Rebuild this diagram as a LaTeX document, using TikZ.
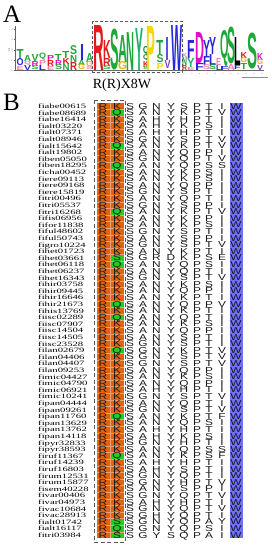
\documentclass[tikz,border=0pt]{standalone}
\usepackage{fontspec}
\setmainfont{Liberation Serif}
\newfontfamily\seqfont{Liberation Sans}
\newfontfamily\logofont{Liberation Sans}
\definecolor{orng}{HTML}{E0640E}
\definecolor{orngline}{HTML}{F0A070}
\definecolor{grn}{HTML}{22CC22}
\definecolor{wblue}{HTML}{7070FF}
\definecolor{lred}{HTML}{E41A1A}
\definecolor{lgreen}{HTML}{1FA83A}
\definecolor{ldgreen}{HTML}{0A7A3A}
\definecolor{lteal}{HTML}{20B070}
\definecolor{lyellow}{HTML}{F5D800}
\definecolor{lorange}{HTML}{F0B000}
\definecolor{lblue}{HTML}{2828D8}
\definecolor{lmag}{HTML}{E010C8}
\definecolor{lpurple}{HTML}{8A3AD0}
\definecolor{lpink}{HTML}{F080B0}
\newcount\colnum
\newcommand\lgl[6]{%
  \pgfmathsetmacro\lgw{#2-#1}\pgfmathsetmacro\lgh{#3-#4}%
  \node[anchor=south west,inner sep=0pt,outer sep=0pt,text=#5] at (#1,#3) {\resizebox*{\lgw pt}{\lgh pt}{\logofont\bfseries #6}};}
\newcommand\seqrow[3]{%
  \pgfmathsetmacro\ry{106+6.6*(#1-1)}%
  \node[namestyle] at (38,\ry+2.4) {\scalebox{1.62}[1]{#2}};%
  \global\colnum=0
  \seqloop#3\relax}
\def\seqloop#1{\ifx#1\relax\else
  \pgfmathsetmacro\cx{{103,117,130,143,156.5,171,184,197,209,222,236}[\the\colnum]}%
  \node[seqlet] at (\cx,\ry+3) {\scalebox{1.38}[1]{#1}};%
  \global\advance\colnum by 1
  \expandafter\seqloop\fi}
\begin{document}
\begin{tikzpicture}[x=1pt,y=-1pt,
  namestyle/.style={anchor=base west,inner sep=0pt,font=\fontsize{6.6}{6.6}\selectfont,text=black},
  seqlet/.style={anchor=base,inner sep=0pt,font=\seqfont\fontsize{8.6}{8.6}\selectfont,text=black!90},
  dashbox/.style={draw=black!65,line width=0.7pt,dash pattern=on 3pt off 2pt},
  panellabel/.style={anchor=base west,inner sep=0pt,font=\fontsize{25}{25}\selectfont}]
\useasboundingbox[fill=white] (0,0) rectangle (272,550);
% ---------- Panel A ----------
\node[panellabel] (labA) at (3,22) {A};
% axis
\draw[black!60,line width=0.3pt] (15,26) -- (15,70.5) -- (264,70.5);
\foreach \k in {0,1,2,3,4}{\draw[black!60,line width=0.3pt] (13.5,70.5-10.3*\k) -- (15,70.5-10.3*\k);
  \node[font=\fontsize{2.5}{2.5}\selectfont,text=black!60,inner sep=0pt] (yt\k) at (12,70.5-10.3*\k) {\k};}
\node[font=\fontsize{2.5}{2.5}\selectfont,text=black!60,inner sep=0pt,rotate=90] (bits) at (9,50) {bits};
\foreach \p in {1,...,32}{\node[font=\fontsize{1.8}{1.8}\selectfont,text=black!50,inner sep=0pt] (xt\p) at (20+7.8*\p-7.8,73.5) {\p};}
\draw[black!45,line width=0.4pt] (242,77.3) -- (268,77.3);
% left small stacks
\lgl{16.5}{23.5}{59}{49}{lgreen}{T}\lgl{16.5}{23.5}{66}{59}{lblue}{O}\lgl{16.5}{23.5}{70}{66}{lpink}{E}
\lgl{24}{31}{61}{55}{lgreen}{A}\lgl{24}{31}{65}{61}{lpink}{Q}\lgl{24}{31}{70}{65}{lblue}{V}
\lgl{31.5}{38.5}{61}{54}{lgreen}{V}\lgl{31.5}{38.5}{66}{61}{lmag}{R}\lgl{31.5}{38.5}{70}{66}{lgreen}{S}
\lgl{39}{46}{60}{53}{lgreen}{Q}\lgl{39}{46}{65}{60}{lpink}{P}\lgl{39}{46}{70}{65}{lblue}{L}
\lgl{47}{54}{60}{55}{lmag}{P}\lgl{47}{54}{66}{60}{lred}{R}\lgl{47}{54}{70}{66}{lpink}{E}
\lgl{55}{62}{60}{54}{lgreen}{T}\lgl{55}{62}{65}{60}{lmag}{R}\lgl{55}{62}{70}{65}{lgreen}{S}
\lgl{62.5}{69.5}{58}{51}{lgreen}{T}\lgl{62.5}{69.5}{64}{58}{lred}{K}\lgl{62.5}{69.5}{70}{64}{lgreen}{N}
\lgl{70}{77}{55}{46}{lgreen}{S}\lgl{70}{77}{62}{55}{lgreen}{N}\lgl{70}{77}{70}{62}{lred}{R}
\lgl{80}{84}{60}{44}{lblue}{I}\lgl{78}{85}{65}{60}{lgreen}{A}\lgl{78}{85}{70}{65}{lorange}{G}
\lgl{86}{93}{62}{53}{lgreen}{A}\lgl{86}{93}{67}{62}{lorange}{G}\lgl{86}{93}{70}{67}{lpink}{S}
% motif positions
\lgl{93.3}{104}{70}{25}{lred}{R}
\lgl{103}{110.5}{58}{40}{lred}{K}\lgl{103}{110.5}{66}{58}{lred}{R}\lgl{103}{110.5}{70}{66}{lgreen}{S}
\lgl{110}{118.5}{70}{29}{lgreen}{S}
\lgl{118}{127}{62}{35}{lgreen}{A}\lgl{118}{127}{70}{62}{lorange}{G}
\lgl{127}{135}{70}{32}{lgreen}{N}
\lgl{135}{143}{70}{28}{lteal}{Y}
\lgl{143}{148.5}{55}{46}{ldgreen}{Q}\lgl{143}{148.5}{61}{55}{ldgreen}{Q}\lgl{143}{148.5}{67}{61}{lred}{K}\lgl{143}{148.5}{70}{67}{lgreen}{S}
\lgl{146.7}{155.5}{70}{26}{lyellow}{P}
\lgl{156.5}{163.5}{55}{40}{lgreen}{T}\lgl{156.5}{163.5}{63}{55}{lgreen}{S}\lgl{156.5}{163.5}{69}{63}{lyellow}{P}
\lgl{165.5}{168.5}{60}{37}{lblue}{I}\lgl{164.5}{170.5}{68}{60}{lpurple}{V}
\lgl{171}{182}{70}{25}{lblue}{W}
% right stacks
\lgl{182}{187}{57}{53}{lpink}{K}\lgl{182}{187}{65}{57}{lgreen}{N}\lgl{182}{187}{70}{65}{lred}{R}
\lgl{187}{194.5}{58}{40}{lblue}{F}\lgl{187}{194.5}{67}{58}{lteal}{Y}\lgl{187}{194.5}{70}{67}{lpink}{E}
\lgl{195}{204}{63}{32}{lmag}{D}\lgl{195}{204}{70}{63}{lblue}{F}
\lgl{203}{210}{56}{40}{lblue}{Y}\lgl{203}{210}{65}{56}{lblue}{F}\lgl{203}{210}{70}{65}{lpink}{S}
\lgl{209}{216}{54}{37}{lblue}{Y}\lgl{209}{216}{65}{54}{lblue}{L}\lgl{209}{216}{70}{65}{lgreen}{S}
\lgl{216}{221}{65}{58}{lpink}{E}\lgl{216}{221}{70}{65}{lblue}{L}
\lgl{220}{228.5}{66}{30}{lgreen}{Q}\lgl{220}{228.5}{70}{66}{lblue}{F}
\lgl{227}{235}{64}{27}{lgreen}{S}\lgl{227}{235}{70}{64}{lpink}{A}
\lgl{234}{240.5}{65}{37}{black}{L}\lgl{234}{240.5}{69}{65}{lblue}{F}
\lgl{240.5}{247}{58}{52}{lred}{K}\lgl{240.5}{247}{63}{58}{lorange}{G}\lgl{240.5}{247}{69}{63}{lgreen}{T}
\lgl{247}{257}{69}{33}{lgreen}{S}
\lgl{257}{263}{60}{53}{lmag}{K}\lgl{257}{263}{65}{60}{lorange}{G}\lgl{257}{263}{70}{65}{lpurple}{V}
\draw[dashbox] (92.7,21) rectangle (182,72);
\node[anchor=base,inner sep=0pt,font=\fontsize{14}{14}\selectfont] (motif) at (122,88) {R(R)X8W};
% ---------- Panel B ----------
\node[panellabel] (labB) at (3,110) {B};
\fill[orng] (96.5,102.7) rectangle (124,538.3);
\fill[wblue] (229.5,102.7) rectangle (242.5,538.3);
\foreach \r in {2,7,10,17,24,25,31,33,38,48,54,64,65,66}{
  \fill[grn] (110.3,102.7+6.6*\r-6.6) rectangle (123.8,102.7+6.6*\r);}
\foreach \r in {1,...,65}{\draw[orngline,line width=0.25pt] (96.5,102.7+6.6*\r) -- (124,102.7+6.6*\r);}
\draw[orngline,line width=0.25pt] (110.2,102.7) -- (110.2,538.3);
\seqrow{1}{fiabe00615}{RKSGNYSPTIW}
\seqrow{2}{fiabe08689}{RQSANYKPTVW}
\seqrow{3}{fiabe16414}{RKSAHYHPTIW}
\seqrow{4}{fialt03220}{RKSAHYKPSIW}
\seqrow{5}{fialt07371}{RKSAHYHPTIW}
\seqrow{6}{fialt08946}{RKSGNYSPTVW}
\seqrow{7}{fialt15642}{RQSANYKPTVW}
\seqrow{8}{fialt19802}{RKSANYQPPIW}
\seqrow{9}{fiben05050}{RKSGNYQPTVW}
\seqrow{10}{fiben18295}{RQSANYQPSSW}
\seqrow{11}{ficha00452}{RKSANYKPSIW}
\seqrow{12}{fiere09113}{RKSANYKPSIW}
\seqrow{13}{fiere09168}{RKSANYQPPIW}
\seqrow{14}{fiere15819}{RKSGNYSPTIW}
\seqrow{15}{fitri00496}{RKSANYQPTIW}
\seqrow{16}{fitri05537}{RKSGNYSPPIW}
\seqrow{17}{fitri16268}{RQSANYKPTVW}
\seqrow{18}{fifis06956}{RKSANYKPPIW}
\seqrow{19}{fifor11838}{RKSANYKPSIW}
\seqrow{20}{fiful48602}{RKSGNYSPTIW}
\seqrow{21}{fiful50743}{RKSANYSPPIW}
\seqrow{22}{figro10224}{RKSGNYSPTVW}
\seqrow{23}{fihet01723}{RKSANYKPTIW}
\seqrow{24}{fihet03661}{RSSGRDKPSEW}
\seqrow{25}{fihet06118}{RQSANYQPSIW}
\seqrow{26}{fihet06237}{RKSANYQPTIW}
\seqrow{27}{fihet16343}{RKSGNYSPTVW}
\seqrow{28}{fihir03758}{RKSANYKPSIW}
\seqrow{29}{fihir09445}{RKSANYQPPIW}
\seqrow{30}{fihir16646}{RKSANYKPTIW}
\seqrow{31}{fihir21673}{RQSANYQPPVW}
\seqrow{32}{fihis13769}{RKSANYKPTIW}
\seqrow{33}{fiisc02289}{RQSANYQPTIW}
\seqrow{34}{fiisc07907}{RKSANYKPSIW}
\seqrow{35}{fiisc14504}{RKSANYQPPIW}
\seqrow{36}{fiisc14505}{RKSANYSPTIW}
\seqrow{37}{fiisc23528}{RKSGNYSPTIW}
\seqrow{38}{filan02679}{RQSGNYKPTVW}
\seqrow{39}{filan04406}{RKSGNYSPTVW}
\seqrow{40}{filan04407}{RKSGNYSPTVW}
\seqrow{41}{filan09253}{RKSANYQPPIW}
\seqrow{42}{fimic04427}{RKSANYKPSIW}
\seqrow{43}{fimic04790}{RKSANYQPPIW}
\seqrow{44}{fimic06921}{RKSAHYHPTIW}
\seqrow{45}{fimic10241}{RKSGNYSPTVW}
\seqrow{46}{fipan04444}{RKSANYQPTIW}
\seqrow{47}{fipan09261}{RKSGNYSPTVW}
\seqrow{48}{fipan11760}{RQSANYKPTFW}
\seqrow{49}{fipan13629}{RKSANYQPSIW}
\seqrow{50}{fipan13762}{RKSAHYHPTIW}
\seqrow{51}{fipan14118}{RKSAHYKPSIW}
\seqrow{52}{fipyr32833}{RKSGNYHPTIW}
\seqrow{53}{fipyr38593}{RKSANYQPSSW}
\seqrow{54}{firuf11367}{RQSANYKPSFW}
\seqrow{55}{firuf14239}{RKSAHYHPTIW}
\seqrow{56}{firuf16803}{RKSAHYSPTIW}
\seqrow{57}{firum12531}{RKSGNYQPTIW}
\seqrow{58}{firum15877}{RKSGNYHPTVW}
\seqrow{59}{fisem40228}{RKSANYSPPIW}
\seqrow{60}{fivar00406}{RKSGNYQPTVW}
\seqrow{61}{fivar04973}{RKSAHYHPTIW}
\seqrow{62}{fivac10684}{RKSGNYQPTVW}
\seqrow{63}{fivac28913}{RKSGHYQPTIW}
\seqrow{64}{fialt01742}{RSSGNYQPAYW}
\seqrow{65}{fialt16117}{RQSGNYQPSIW}
\seqrow{66}{fitri03984}{RSSGYSQPAIW}
\draw[dashbox,dash pattern=on 4pt off 2.5pt] (94.5,100) rectangle (125.5,542);
\end{tikzpicture}
\end{document}
